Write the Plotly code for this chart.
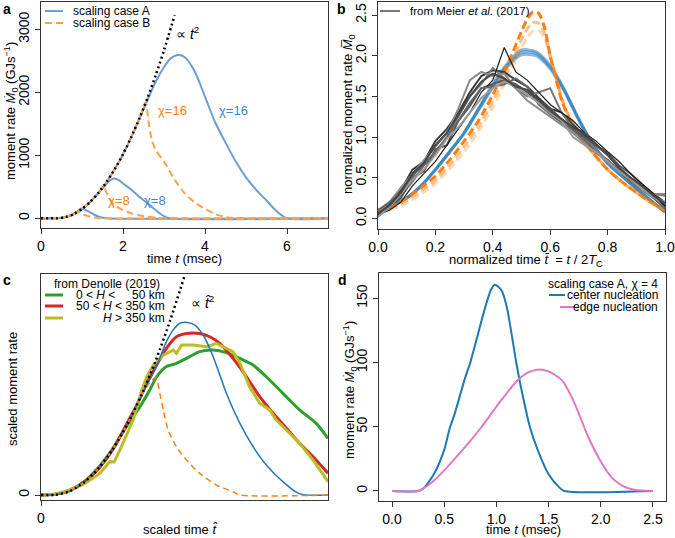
import plotly.graph_objects as go

W, H = 675, 538
FONT = "Liberation Sans, Arial, Helvetica, sans-serif"

def X(px):
    return px / W

def Y(py):
    return 1 - py / H

# ---------------- Panel a data (time in msec, moment rate in GJ/s)
a_t_dot = [0, 0.4, 0.6, 0.8, 1.0, 1.2, 1.4, 1.6, 1.8, 2.0, 2.2, 2.4, 2.6, 2.8, 3.0, 3.26]
a_v_dot = [0, 0, 18, 67, 148, 259, 402, 576, 781, 1017, 1285, 1584, 1914, 2275, 2667, 3224]

a_t_A4 = [0, 0.4, 0.6, 0.8, 0.9, 0.97, 1.05, 1.15, 1.3, 1.45, 1.6, 7.0]
a_v_A4 = [0, 0, 18, 67, 118, 150, 142, 108, 55, 15, 0, 0]
a_t_B4 = [0, 0.4, 0.6, 0.75, 0.88, 0.95, 1.05, 1.2, 1.35, 1.5, 7.0]
a_v_B4 = [0, 0, 18, 50, 95, 85, 55, 25, 8, 0, 0]

a_t_A8 = [0, 0.4, 0.6, 0.8, 1.0, 1.2, 1.4, 1.55, 1.65, 1.77, 1.9, 2.0, 2.2, 2.4, 2.6, 2.8, 3.0, 3.12, 7.0]
a_v_A8 = [0, 0, 18, 67, 148, 259, 400, 510, 585, 632, 604, 551, 456, 339, 237, 127, 32, 0, 0]
a_t_B8 = [0, 0.4, 0.6, 0.8, 1.0, 1.2, 1.4, 1.52, 1.6, 1.7, 1.8, 2.0, 2.2, 2.4, 2.6, 2.8, 3.0, 7.0]
a_v_B8 = [0, 0, 18, 67, 148, 259, 402, 505, 400, 285, 205, 130, 80, 48, 25, 10, 0, 0]

a_t_A16 = [0, 0.4, 0.6, 0.8, 1.0, 1.2, 1.4, 1.6, 1.8, 2.0, 2.2, 2.4, 2.6, 2.8, 3.0, 3.15, 3.33,
           3.5, 3.75, 4.0, 4.25, 4.5, 4.75, 5.0, 5.25, 5.5, 5.75, 6.0, 7.0]
a_v_A16 = [0, 0, 18, 67, 148, 259, 402, 576, 781, 1017, 1285, 1580, 1880, 2170, 2400, 2530, 2590,
           2560, 2330, 1930, 1520, 1200, 900, 650, 450, 280, 110, 0, 0]
a_t_B16 = [0, 0.4, 0.6, 0.8, 1.0, 1.2, 1.4, 1.6, 1.8, 2.0, 2.2, 2.4, 2.55, 2.62, 2.7, 2.8, 3.0,
           3.25, 3.5, 3.75, 4.0, 4.25, 4.5, 4.75, 7.0]
a_v_B16 = [0, 0, 18, 67, 148, 259, 402, 576, 781, 1017, 1285, 1584, 1840, 1550, 1250, 1080, 900,
           620, 400, 250, 150, 65, 20, 0, 0]

# ---------------- Panel b data (normalized)
b_t_gray = [0, 0.04, 0.08, 0.12, 0.16, 0.2, 0.24, 0.28, 0.32, 0.36, 0.4, 0.44, 0.48,
            0.52, 0.56, 0.6, 0.64, 0.68, 0.72, 0.76, 0.8, 0.84, 0.88, 0.92, 0.96, 1.0]
b_gray1 = [0.05, 0.18, 0.35, 0.60, 0.70, 0.95, 1.10, 1.30, 1.55, 1.75, 1.82, 1.80, 1.70, 1.62, 1.48, 1.35, 1.30, 1.15, 1.02, 0.90, 0.78, 0.62, 0.50, 0.40, 0.30, 0.20]
b_gray2 = [0.08, 0.12, 0.28, 0.45, 0.65, 0.78, 1.00, 1.25, 1.50, 1.65, 1.85, 1.72, 1.60, 1.50, 1.55, 1.60, 1.30, 1.10, 0.98, 0.85, 0.70, 0.60, 0.48, 0.40, 0.30, 0.28]
b_gray3 = [0.02, 0.15, 0.25, 0.50, 0.58, 0.85, 0.90, 1.20, 1.38, 1.60, 1.65, 1.70, 1.65, 1.55, 1.45, 1.35, 1.22, 1.10, 1.00, 0.90, 0.80, 0.65, 0.55, 0.42, 0.30, 0.15]
b_gray4 = [0.05, 0.20, 0.38, 0.55, 0.72, 0.88, 1.05, 1.35, 1.70, 1.80, 1.75, 1.78, 1.60, 1.45, 1.35, 1.25, 1.15, 1.05, 0.92, 0.80, 0.70, 0.60, 0.50, 0.38, 0.30, 0.30]
b_gray5 = [0.05, 0.10, 0.20, 0.40, 0.55, 0.70, 0.90, 1.10, 1.30, 1.55, 1.70, 2.10, 1.80, 1.70, 1.55, 1.40, 1.30, 1.20, 1.05, 0.95, 0.82, 0.70, 0.55, 0.42, 0.30, 0.15]
b_gray6 = [0.10, 0.20, 0.32, 0.52, 0.66, 0.82, 1.00, 1.20, 1.42, 1.60, 1.62, 1.65, 1.72, 1.62, 1.40, 1.28, 1.18, 1.08, 0.96, 0.82, 0.72, 0.58, 0.45, 0.35, 0.25, 0.12]
b_gray7 = [0.02, 0.14, 0.30, 0.48, 0.60, 0.78, 0.98, 1.12, 1.30, 1.48, 1.60, 1.68, 1.62, 1.52, 1.42, 1.30, 1.20, 1.00, 0.90, 0.82, 0.70, 0.58, 0.48, 0.36, 0.26, 0.20]
b_gray8 = [0.06, 0.16, 0.32, 0.55, 0.68, 0.90, 1.05, 1.28, 1.50, 1.68, 1.78, 1.72, 1.62, 1.58, 1.45, 1.32, 1.22, 1.12, 1.05, 0.92, 0.78, 0.62, 0.50, 0.40, 0.28, 0.18]
b_gray_sets = [b_gray1, b_gray2, b_gray3, b_gray4, b_gray5, b_gray6, b_gray7, b_gray8]
b_gray_colors = ["#3a3a3a", "#7a7a7a", "#555555", "#8a8a8a", "#1a1a1a", "#666666", "#999999", "#464646"]
b_gray_widths = [2, 2, 2, 2, 1.2, 2, 2, 2]

b_t_model = [0, 0.05, 0.1, 0.15, 0.2, 0.25, 0.3, 0.35, 0.4, 0.45, 0.5, 0.55, 0.6, 0.65, 0.7,
             0.75, 0.8, 0.85, 0.9, 0.95, 1.0]
b_blue1 = [0.10, 0.16, 0.25, 0.40, 0.60, 0.82, 1.05, 1.35, 1.65, 1.90, 2.07, 2.05, 1.88, 1.58, 1.22, 0.90, 0.68, 0.52, 0.37, 0.22, 0.08]
b_blue2 = [0.10, 0.16, 0.25, 0.40, 0.60, 0.82, 1.05, 1.34, 1.63, 1.88, 2.04, 2.03, 1.86, 1.57, 1.21, 0.90, 0.68, 0.52, 0.37, 0.22, 0.08]
b_blue3 = [0.10, 0.16, 0.25, 0.40, 0.60, 0.82, 1.05, 1.33, 1.61, 1.86, 2.01, 2.00, 1.84, 1.56, 1.21, 0.90, 0.68, 0.52, 0.37, 0.22, 0.08]

b_t_orange = [0, 0.05, 0.1, 0.15, 0.2, 0.25, 0.3, 0.35, 0.4, 0.45, 0.5, 0.52, 0.54, 0.56, 0.58,
              0.6, 0.62, 0.64, 0.66, 0.7, 0.75, 0.8, 0.85, 0.9, 0.95, 1.0]
b_orange1 = [0.10, 0.16, 0.25, 0.38, 0.52, 0.72, 0.95, 1.20, 1.52, 1.88, 2.30, 2.45, 2.54, 2.52, 2.35, 2.00, 1.72, 1.45, 1.28, 1.02, 0.80, 0.60, 0.45, 0.32, 0.20, 0.10]
b_orange2 = [0.10, 0.14, 0.22, 0.34, 0.47, 0.66, 0.88, 1.13, 1.44, 1.80, 2.20, 2.33, 2.41, 2.40, 2.28, 2.00, 1.74, 1.47, 1.29, 1.03, 0.80, 0.60, 0.45, 0.32, 0.20, 0.10]
b_orange3 = [0.10, 0.12, 0.19, 0.30, 0.43, 0.61, 0.82, 1.07, 1.37, 1.72, 2.10, 2.22, 2.30, 2.31, 2.22, 1.98, 1.75, 1.49, 1.30, 1.04, 0.81, 0.61, 0.45, 0.32, 0.20, 0.10]

# ---------------- Panel c data (scaled units)
c_x_dot = [0, 0.05, 0.1, 0.15, 0.2, 0.25, 0.3, 0.35, 0.4, 0.45, 0.5]
c_y_dot = [0, 0.001, 0.017, 0.057, 0.12, 0.207, 0.318, 0.452, 0.609, 0.79, 0.99]

c_x_blue = [0, 0.05, 0.1, 0.15, 0.2, 0.25, 0.3, 0.35, 0.4, 0.437, 0.461, 0.484, 0.51, 0.536,
            0.565, 0.6, 0.646, 0.693, 0.739, 0.785, 0.843, 0.901, 1.0]
c_y_blue = [0, 0.001, 0.017, 0.057, 0.12, 0.207, 0.318, 0.45, 0.575, 0.694, 0.747, 0.777, 0.781,
            0.769, 0.724, 0.626, 0.46, 0.324, 0.219, 0.136, 0.06, 0.005, 0]
c_x_orange = [0, 0.05, 0.1, 0.15, 0.2, 0.25, 0.3, 0.35, 0.38, 0.4, 0.414, 0.426, 0.443, 0.472,
              0.507, 0.553, 0.611, 0.669, 0.693, 1.0]
c_y_orange = [0, 0.001, 0.017, 0.057, 0.12, 0.207, 0.318, 0.45, 0.51, 0.53, 0.46, 0.385, 0.294,
              0.219, 0.158, 0.098, 0.045, 0.015, 0.0, 0.0]
c_x_green = [0, 0.05, 0.1, 0.15, 0.2, 0.25, 0.3, 0.345, 0.379, 0.403, 0.437, 0.472, 0.507, 0.553,
             0.6, 0.646, 0.693, 0.739, 0.785, 0.843, 0.901, 0.959, 1.0]
c_y_green = [0, 0.003, 0.02, 0.06, 0.125, 0.21, 0.315, 0.4, 0.475, 0.535, 0.581, 0.596, 0.618,
             0.649, 0.656, 0.644, 0.618, 0.588, 0.535, 0.46, 0.385, 0.324, 0.256]
c_x_red = [0, 0.05, 0.1, 0.15, 0.2, 0.25, 0.3, 0.335, 0.368, 0.403, 0.437, 0.472, 0.507, 0.553,
           0.588, 0.623, 0.669, 0.716, 0.762, 0.809, 0.855, 0.901, 0.948, 1.0]
c_y_red = [0, 0.004, 0.022, 0.058, 0.118, 0.205, 0.325, 0.41, 0.505, 0.588, 0.664, 0.716, 0.731,
           0.731, 0.716, 0.686, 0.618, 0.535, 0.445, 0.37, 0.302, 0.234, 0.173, 0.098]
c_x_olive = [0, 0.05, 0.1, 0.15, 0.205, 0.24, 0.255, 0.275, 0.321, 0.35, 0.368, 0.391, 0.426,
             0.461, 0.472, 0.49, 0.53, 0.577, 0.611, 0.646, 0.669, 0.693, 0.727, 0.762, 0.797,
             0.82, 0.855, 0.901, 0.948, 1.0]
c_y_olive = [0, 0.005, 0.022, 0.05, 0.098, 0.151, 0.15, 0.204, 0.339, 0.47, 0.535, 0.588, 0.633,
             0.656, 0.641, 0.679, 0.679, 0.671, 0.686, 0.664, 0.649, 0.596, 0.49, 0.415, 0.385,
             0.339, 0.294, 0.234, 0.158, 0.06]

# ---------------- Panel d data
d_t_center = [0, 0.25, 0.3, 0.4, 0.5, 0.55, 0.6, 0.7, 0.75, 0.8, 0.9, 0.95, 0.985, 1.05, 1.1,
              1.19, 1.25, 1.32, 1.4, 1.5, 1.6, 1.65, 2.5]
d_v_center = [0, 0, 2, 13, 32, 48, 60, 88, 100, 115, 145, 157, 160.5, 156, 143, 100, 75, 50, 31,
              13, 3, 0, 0]
d_t_edge = [0, 0.25, 0.3, 0.4, 0.5, 0.6, 0.73, 0.85, 0.95, 1.05, 1.19, 1.3, 1.41, 1.5, 1.63,
            1.75, 1.88, 2.01, 2.1, 2.17, 2.25, 2.33, 2.5]
d_v_edge = [0, 0, 2, 8, 16, 25, 37, 49, 60, 71, 85, 92, 94.5, 93, 86, 68, 42, 21.5, 11, 6, 2.5,
            0.8, 0]

A_BLUE = "#6a9fd4"
A_ORANGE = "#ffa04a"
T_BLUE = "#1f77b4"
T_ORANGE = "#ff7f0e"

fig = go.Figure()

def add(x, y, axis, color, width, dash="solid", smooth=True):
    fig.add_trace(go.Scatter(x=x, y=y, mode="lines", xaxis="x" + axis, yaxis="y" + axis,
                             line=dict(color=color, width=width, dash=dash,
                                       shape="spline" if smooth else "linear",
                                       smoothing=0.7 if smooth else None),
                             showlegend=False, hoverinfo="skip"))

# panel a
add(a_t_A4, a_v_A4, "", A_BLUE, 2)
add(a_t_A8, a_v_A8, "", A_BLUE, 2)
add(a_t_A16, a_v_A16, "", A_BLUE, 2)
add(a_t_B4, a_v_B4, "", A_ORANGE, 2, "7px,4px")
add(a_t_B8, a_v_B8, "", A_ORANGE, 2, "7px,4px")
add(a_t_B16, a_v_B16, "", A_ORANGE, 2, "7px,4px")
add(a_t_dot, a_v_dot, "", "black", 2.5, "2px,3px")

# panel b
for yb in (b_blue3, b_blue2, b_blue1):
    add(b_t_model, yb, "2", "rgba(40,125,190,0.55)", 3)
add(b_t_orange, b_orange3, "2", "rgba(255,127,14,0.3)", 3, "8px,4px")
add(b_t_orange, b_orange2, "2", "rgba(255,127,14,0.5)", 3, "8px,4px")
add(b_t_orange, b_orange1, "2", T_ORANGE, 3, "8px,4px")
for yg, cg, wg in zip(b_gray_sets, b_gray_colors, b_gray_widths):
    add(b_t_gray, yg, "2", cg, wg, smooth=False)

# panel c
add(c_x_green, c_y_green, "3", "#2ca02c", 3)
add(c_x_red, c_y_red, "3", "#d62728", 3)
add(c_x_olive, c_y_olive, "3", "#bcbd22", 3, smooth=False)
add(c_x_blue, c_y_blue, "3", T_BLUE, 1.5)
add(c_x_orange, c_y_orange, "3", T_ORANGE, 1.5, "6px,4px")
add(c_x_dot, c_y_dot, "3", "black", 2.5, "2px,3px")

# panel d
add(d_t_center, d_v_center, "4", T_BLUE, 2)
add(d_t_edge, d_v_edge, "4", "#e377c2", 2)

tickfont = dict(family=FONT, size=14, color="black")
axcommon = dict(showline=True, mirror=True, linecolor="#333", linewidth=1, ticks="outside",
                ticklen=5, tickcolor="#333", showgrid=False, zeroline=False, tickfont=tickfont,
                automargin=False)

fig.update_layout(
    width=W, height=H, margin=dict(l=0, r=0, t=0, b=0, autoexpand=False),
    paper_bgcolor="white", plot_bgcolor="white", showlegend=False,
    font=dict(family=FONT, size=13, color="black"),
    xaxis=dict(domain=[X(41), X(328)], range=[0, 7], tickvals=[0, 2, 4, 6], anchor="y", **axcommon),
    yaxis=dict(domain=[Y(228), Y(2)], range=[-155, 3433], tickvals=[0, 1000, 2000, 3000],
               tickangle=-90, anchor="x", **axcommon),
    xaxis2=dict(domain=[X(378), X(665)], range=[0, 1], tickvals=[0, 0.2, 0.4, 0.6, 0.8, 1.0],
                tickformat=".1f", anchor="y2", **axcommon),
    yaxis2=dict(domain=[Y(229), Y(2)], range=[-0.13, 2.66], tickvals=[0, 0.5, 1.0, 1.5, 2.0, 2.5],
                tickformat=".1f", tickangle=-90, anchor="x2", **axcommon),
    xaxis3=dict(domain=[X(41), X(328)], range=[0, 1], tickvals=[0], anchor="y3", **axcommon),
    yaxis3=dict(domain=[Y(500), Y(274)], range=[-0.0226, 1], tickvals=[0], tickangle=-90,
                anchor="x3", **axcommon),
    xaxis4=dict(domain=[X(379), X(666)], range=[-0.125, 2.625],
                tickvals=[0, 0.5, 1.0, 1.5, 2.0, 2.5], tickformat=".1f", anchor="y4", **axcommon),
    yaxis4=dict(domain=[Y(501), Y(273)], range=[-7.8, 169.6], tickvals=[0, 50, 100, 150],
                tickangle=-90, anchor="x4", **axcommon),
)

ann = []
def txt(x, y, s, size=13, color="black", xanchor="center", angle=0):
    ann.append(dict(x=X(x), y=Y(y), xref="paper", yref="paper", text=s, showarrow=False,
                    xanchor=xanchor, yanchor="middle", textangle=angle,
                    font=dict(family=FONT, size=size, color=color)))

# panel labels
txt(7, 9, "<b>a</b>", 14)
txt(341, 9, "<b>b</b>", 14)
txt(7, 280, "<b>c</b>", 14)
txt(342, 280, "<b>d</b>", 14)

# axis titles
txt(11, 111, "moment rate <i>M\u0307</i><sub>0</sub> (GJs<sup>\u22121</sup>)", 13, angle=-90)
txt(184, 258, "time <i>t</i> (msec)", 13)
txt(348, 114, "normalized moment rate <i>M\u0305</i><sub>0</sub>", 13, angle=-90)
txt(526, 260, "normalized time <i>t\u0304</i>  = <i>t</i> / 2<i>T</i><sub>C</sub>", 13)
txt(12, 389, "scaled moment rate", 13, angle=-90)
txt(180, 529, "scaled time <i>t\u0302</i>", 13)
txt(350, 390, "moment rate <i>M\u0307</i><sub>0</sub> (GJs<sup>\u22121</sup>)", 13, angle=-90)
txt(523, 529, "time <i>t</i> (msec)", 13)

# panel a labels
txt(71, 11, "scaling case A", 12, xanchor="left")
txt(71, 23, "scaling case B", 12, xanchor="left")
txt(187, 33, "\u221d <i>t</i><sup>2</sup>", 14)
txt(172, 110, "\u03c7=16", 13, T_ORANGE)
txt(233, 110, "\u03c7=16", 13, "#3d88c8")
txt(119, 200, "\u03c7=8", 13, T_ORANGE)
txt(155, 200, "\u03c7=8", 13, "#3d88c8")

# panel b legend
txt(408, 11, "from Meier <i>et al.</i> (2017)", 11.5, xanchor="left")

# panel c legend
txt(107, 284, "from Denolle (2019)", 12)
txt(167, 295, "0 < <i>H</i> < \u2007\u200750 km", 12, xanchor="right")
txt(167, 306, "50 < <i>H</i> < 350 km", 12, xanchor="right")
txt(167, 318, "<i>H</i> > 350 km", 12, xanchor="right")
txt(202, 302, "\u221d <i>t\u0302</i><sup>2</sup>", 14)

# panel d legend
txt(660, 284, "scaling case A, \u03c7 = 4", 12, xanchor="right")
txt(660, 295, "center nucleation", 12, xanchor="right")
txt(660, 307, "edge nucleation", 12, xanchor="right")

fig.update_layout(annotations=ann)

shapes = []
def key(x0, x1, y, color, width, dash="solid"):
    shapes.append(dict(type="line", xref="paper", yref="paper", x0=X(x0), x1=X(x1), y0=Y(y), y1=Y(y),
                       line=dict(color=color, width=width, dash=dash)))

key(45, 63, 11, A_BLUE, 2)
key(45, 63, 23, A_ORANGE, 2, "7px,4px")
key(380, 400, 11, "#777777", 2)
key(45, 63, 295, "#2ca02c", 3)
key(45, 63, 306, "#d62728", 3)
key(45, 63, 318, "#bcbd22", 3)
key(549, 565, 295, T_BLUE, 2)
key(560, 575, 307, "#e377c2", 2)
fig.update_layout(shapes=shapes)

fig.write_html("out.html", config={"displayModeBar": False},
               post_script="document.body.style.margin='0';document.body.style.padding='0';")
